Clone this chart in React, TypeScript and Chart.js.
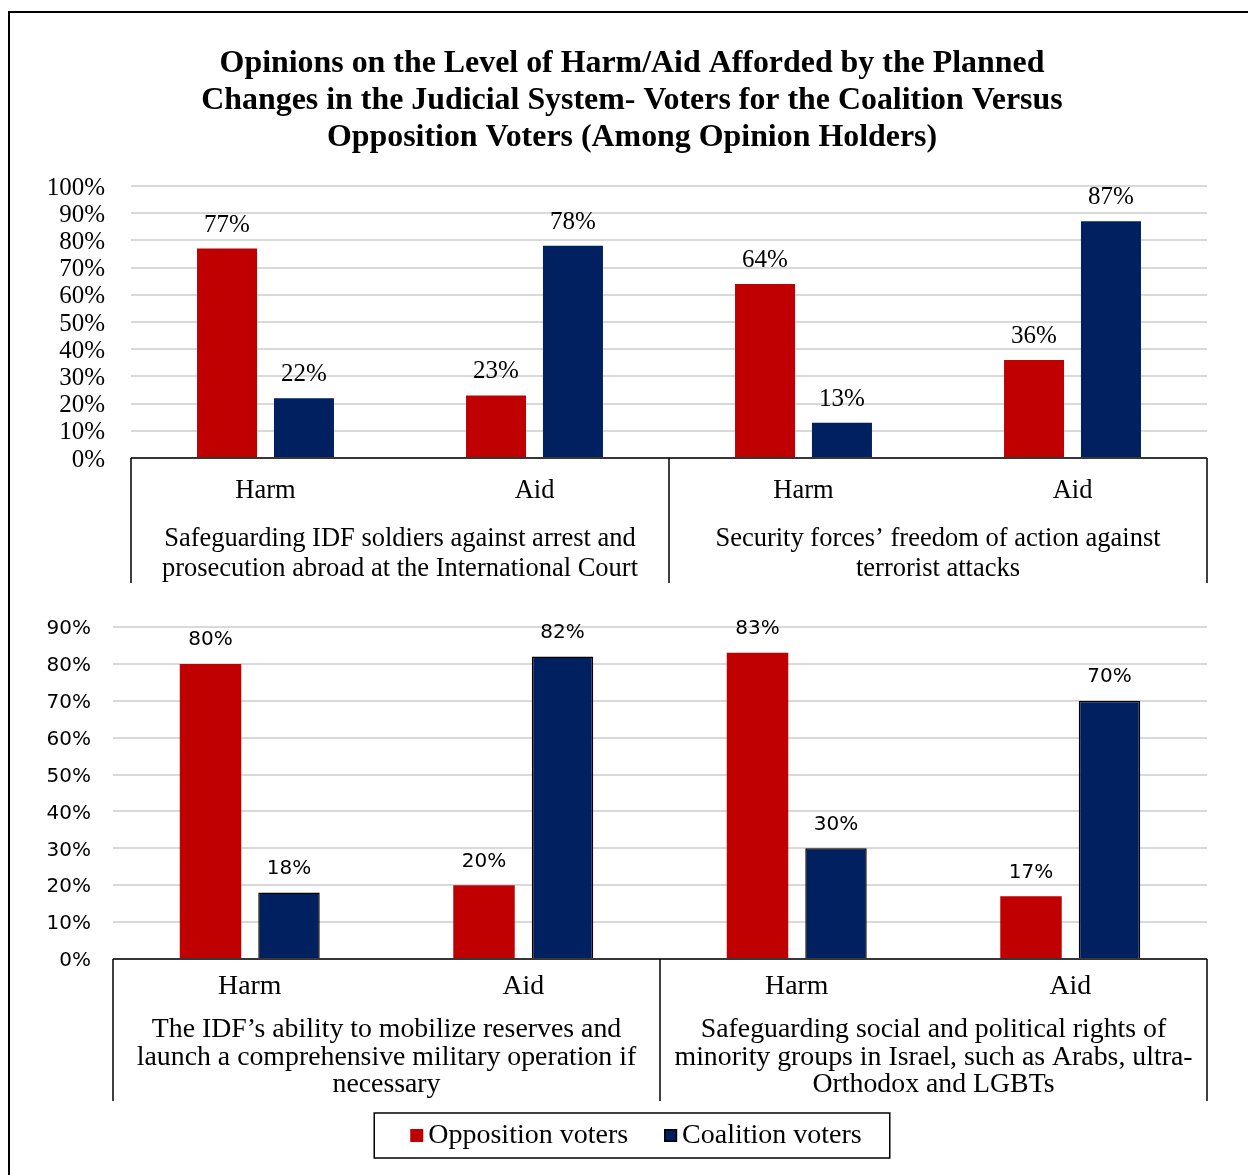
import React, { useEffect, useRef } from "react";
import { Chart, registerables } from "chart.js";

Chart.register(...registerables);

// ---------- data ----------
const TITLE_LINES = [
  "Opinions on the Level of Harm/Aid Afforded by the Planned",
  "Changes in the Judicial System- Voters for the Coalition Versus",
  "Opposition Voters (Among Opinion Holders)",
];
const SERIES_NAMES = ["Opposition voters", "Coalition voters"];
const SERIES_COLORS = ["#C00000", "#002060"];
const CATEGORIES = ["Harm", "Aid", "Harm", "Aid"];

const TOP_OPPOSITION = [77, 23, 64, 36];
const TOP_COALITION = [22, 78, 13, 87];
const TOP_GROUPS = [
  ["Safeguarding IDF soldiers against arrest and", "prosecution abroad at the International Court"],
  ["Security forces\u2019 freedom of action against", "terrorist attacks"],
];
const TOP_Y_MAX = 100;
const TOP_Y_STEP = 10;

const BOTTOM_OPPOSITION = [80, 20, 83, 17];
const BOTTOM_COALITION = [18, 82, 30, 70];
const BOTTOM_GROUPS = [
  [
    "The IDF\u2019s ability to mobilize reserves and",
    "launch a comprehensive military operation if",
    "necessary",
  ],
  [
    "Safeguarding social and political rights of",
    "minority groups in Israel, such as Arabs, ultra-",
    "Orthodox and LGBTs",
  ],
];
const BOTTOM_Y_MAX = 90;
const BOTTOM_Y_STEP = 10;

// ---------- styling ----------
const SERIF = '"Liberation Serif", "Times New Roman", serif';
const SANS = '"DejaVu Sans", Tahoma, sans-serif';
const W = 1248;
const TOP_H = 590;
const BOTTOM_TOP = 590;
const BOTTOM_H = 1175 - 590;

type BoxCfg = {
  groups: string[][];
  depth: number;
  catFont: string;
  catOffset: number;
  groupFont: string;
  groupOffset: number;
  groupLineHeight: number;
};

function categoryBoxes(cfg: BoxCfg) {
  return {
    id: "categoryBoxes",
    afterDraw(chart: any) {
      const { ctx, chartArea } = chart;
      const { left, right, bottom } = chartArea;
      const xs = chart.scales.x;
      const n = chart.data.labels.length;
      const perGroup = n / cfg.groups.length;
      const catW = (right - left) / n;
      ctx.save();
      ctx.strokeStyle = "#000";
      ctx.lineWidth = 1.5;
      ctx.beginPath();
      ctx.moveTo(left, bottom);
      ctx.lineTo(right, bottom);
      for (let g = 0; g <= cfg.groups.length; g++) {
        const x = left + catW * perGroup * g;
        ctx.moveTo(x, bottom);
        ctx.lineTo(x, bottom + cfg.depth);
      }
      ctx.stroke();
      ctx.fillStyle = "#000";
      ctx.textAlign = "center";
      ctx.textBaseline = "middle";
      ctx.font = cfg.catFont;
      chart.data.labels.forEach((lab: string, i: number) => {
        ctx.fillText(lab, xs.getPixelForValue(i), bottom + cfg.catOffset);
      });
      ctx.font = cfg.groupFont;
      cfg.groups.forEach((lines, g) => {
        const cx = left + catW * perGroup * (g + 0.5);
        lines.forEach((line, k) => {
          ctx.fillText(line, cx, bottom + cfg.groupOffset + k * cfg.groupLineHeight);
        });
      });
      ctx.restore();
    },
  };
}

function barValues(font: string, gap: number) {
  return {
    id: "barValues",
    afterDatasetsDraw(chart: any) {
      const { ctx } = chart;
      ctx.save();
      ctx.font = font;
      ctx.fillStyle = "#000";
      ctx.textAlign = "center";
      ctx.textBaseline = "alphabetic";
      chart.data.datasets.forEach((ds: any, i: number) => {
        const meta = chart.getDatasetMeta(i);
        meta.data.forEach((bar: any, j: number) => {
          ctx.fillText(`${ds.data[j]}%`, bar.x, bar.y - gap);
        });
      });
      ctx.restore();
    },
  };
}

// centre the (full-width) title block over the whole framed figure
function titleCentre(cx: number) {
  return {
    id: "titleCentre",
    afterLayout(chart: any) {
      const t = chart.titleBlock;
      if (!t) return;
      const half = Math.min(cx, W - cx);
      t.left = cx - half;
      t.right = cx + half;
      t.width = 2 * half;
    },
  };
}

function boxedLegend(cx: number, cy: number) {
  return {
    id: "boxedLegend",
    afterDraw(chart: any) {
      const { ctx } = chart;
      const sq = 13;
      const textGap = 5;
      const itemGap = 36;
      const padL = 36;
      const padR = 28;
      const boxH = 45;
      ctx.save();
      ctx.font = `28px ${SERIF}`;
      const items = chart.data.datasets.map((ds: any) => ({
        label: ds.label,
        color: ds.backgroundColor,
        border: ds.borderWidth ? ds.borderColor : null,
        w: ctx.measureText(ds.label).width,
      }));
      const contentW =
        items.reduce((s: number, it: any) => s + sq + textGap + it.w, 0) + itemGap * (items.length - 1);
      const boxW = contentW + padL + padR;
      const boxL = cx - boxW / 2;
      const boxT = cy - boxH / 2;
      ctx.strokeStyle = "#000";
      ctx.lineWidth = 1.5;
      ctx.strokeRect(boxL, boxT, boxW, boxH);
      let x = boxL + padL;
      ctx.textAlign = "left";
      ctx.textBaseline = "middle";
      items.forEach((it: any) => {
        ctx.fillStyle = it.color;
        ctx.fillRect(x, cy - sq / 2, sq, sq);
        if (it.border) {
          ctx.strokeStyle = it.border;
          ctx.lineWidth = 1.5;
          ctx.strokeRect(x + 0.75, cy - sq / 2 + 0.75, sq - 1.5, sq - 1.5);
        }
        x += sq + textGap;
        ctx.fillStyle = "#000";
        ctx.fillText(it.label, x, cy);
        x += it.w + itemGap;
      });
      ctx.restore();
    },
  };
}

export default function App() {
  const topRef = useRef<HTMLCanvasElement | null>(null);
  const bottomRef = useRef<HTMLCanvasElement | null>(null);

  useEffect(() => {
    const topChart = new Chart(topRef.current as HTMLCanvasElement, {
      type: "bar",
      data: {
        labels: CATEGORIES,
        datasets: [
          { label: SERIES_NAMES[0], data: TOP_OPPOSITION, backgroundColor: SERIES_COLORS[0], borderWidth: 0 },
          { label: SERIES_NAMES[1], data: TOP_COALITION, backgroundColor: SERIES_COLORS[1], borderWidth: 0 },
        ],
      },
      options: {
        responsive: false,
        animation: false,
        devicePixelRatio: 1,
        datasets: { bar: { categoryPercentage: 0.572, barPercentage: 0.78 } },
        layout: { padding: { left: 0, right: 41, top: 0, bottom: TOP_H - 458 } },
        plugins: {
          legend: { display: false },
          tooltip: { enabled: false },
          title: {
            display: true,
            text: TITLE_LINES,
            color: "#000",
            font: { family: SERIF, size: 31.9, weight: "bold", lineHeight: 37 / 31.9 },
            padding: { top: 45.5, bottom: 29.5 },
          },
        },
        scales: {
          x: { display: false },
          y: {
            min: 0,
            max: TOP_Y_MAX,
            afterFit: (s: any) => {
              s.width = 131;
            },
            ticks: {
              stepSize: TOP_Y_STEP,
              autoSkip: false,
              padding: 26,
              labelOffset: 2,
              color: "#000",
              font: { family: SERIF, size: 25 },
              callback: (v: any) => `${v}%`,
            },
            grid: { color: "#d9d9d9", lineWidth: 2, drawTicks: false },
            border: { display: false },
          },
        },
      },
      plugins: [
        titleCentre(632),
        categoryBoxes({
          groups: TOP_GROUPS,
          depth: 125,
          catFont: `26.5px ${SERIF}`,
          catOffset: 33,
          groupFont: `26.5px ${SERIF}`,
          groupOffset: 81,
          groupLineHeight: 30,
        }),
        barValues(`25px ${SERIF}`, 17),
      ],
    } as any);

    const bottomChart = new Chart(bottomRef.current as HTMLCanvasElement, {
      type: "bar",
      data: {
        labels: CATEGORIES,
        datasets: [
          { label: SERIES_NAMES[0], data: BOTTOM_OPPOSITION, backgroundColor: SERIES_COLORS[0], borderWidth: 0 },
          {
            label: SERIES_NAMES[1],
            data: BOTTOM_COALITION,
            backgroundColor: SERIES_COLORS[1],
            borderColor: "#000",
            borderWidth: 1.5,
          },
        ],
      },
      options: {
        responsive: false,
        animation: false,
        devicePixelRatio: 1,
        datasets: { bar: { categoryPercentage: 0.574, barPercentage: 0.783 } },
        layout: { padding: { left: 0, right: 41, top: 627 - BOTTOM_TOP, bottom: BOTTOM_H - (959 - BOTTOM_TOP) } },
        plugins: {
          legend: { display: false },
          tooltip: { enabled: false },
          title: { display: false },
        },
        scales: {
          x: { display: false },
          y: {
            min: 0,
            max: BOTTOM_Y_MAX,
            afterFit: (s: any) => {
              s.width = 113;
            },
            ticks: {
              stepSize: BOTTOM_Y_STEP,
              autoSkip: false,
              padding: 22,
              labelOffset: 2,
              color: "#000",
              font: { family: SANS, size: 20 },
              callback: (v: any) => `${v}%`,
            },
            grid: { color: "#d9d9d9", lineWidth: 2, drawTicks: false },
            border: { display: false },
          },
        },
      },
      plugins: [
        categoryBoxes({
          groups: BOTTOM_GROUPS,
          depth: 142,
          catFont: `27.8px ${SERIF}`,
          catOffset: 28,
          groupFont: `27.8px ${SERIF}`,
          groupOffset: 71,
          groupLineHeight: 27.5,
        }),
        barValues(`20px ${SANS}`, 18.5),
        boxedLegend(632, 1135.5 - BOTTOM_TOP),
      ],
    } as any);

    return () => {
      topChart.destroy();
      bottomChart.destroy();
    };
  }, []);

  return (
    <div
      style={{
        position: "fixed",
        left: 0,
        top: 0,
        width: W,
        height: 1175,
        overflow: "hidden",
        background: "#fff",
      }}
    >
      <div
        style={{
          position: "absolute",
          left: 8,
          top: 11,
          width: 1300,
          height: 1300,
          border: "2px solid #000",
          boxSizing: "border-box",
        }}
      />
      <canvas
        ref={topRef}
        width={W}
        height={TOP_H}
        style={{ position: "absolute", left: 0, top: 0, width: W, height: TOP_H }}
      />
      <canvas
        ref={bottomRef}
        width={W}
        height={BOTTOM_H}
        style={{ position: "absolute", left: 0, top: BOTTOM_TOP, width: W, height: BOTTOM_H }}
      />
    </div>
  );
}
